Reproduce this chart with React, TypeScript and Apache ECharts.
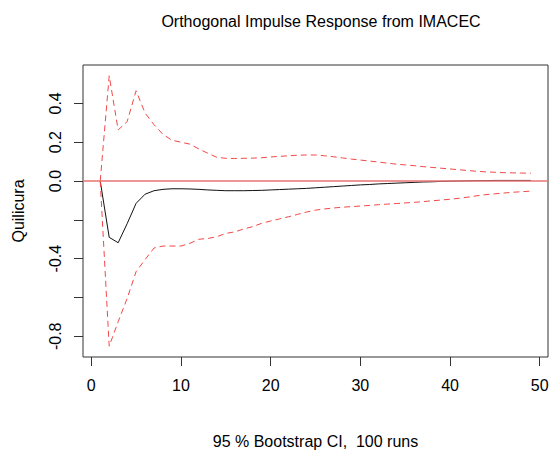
import React, { useEffect, useRef } from "react";
import * as echarts from "echarts";

const steps: number[] = Array.from({ length: 49 }, (_, i) => i + 1);

const irf: number[] = [
  0, -0.29, -0.318, -0.22, -0.115, -0.068, -0.05, -0.043, -0.04, -0.04,
  -0.041, -0.043, -0.046, -0.048, -0.05, -0.05, -0.05, -0.049, -0.048, -0.046,
  -0.044, -0.042, -0.04, -0.038, -0.035, -0.032, -0.029, -0.026, -0.023, -0.02,
  -0.018, -0.015, -0.013, -0.011, -0.009, -0.007, -0.005, -0.004, -0.002, -0.001,
  0, 0.001, 0.002, 0.002, 0.003, 0.003, 0.003, 0.003, 0.003,
];

const upper: number[] = [
  0.0, 0.542, 0.263, 0.306, 0.465, 0.35, 0.29, 0.24, 0.21, 0.2,
  0.19, 0.165, 0.143, 0.122, 0.117, 0.116, 0.117, 0.118, 0.12, 0.124,
  0.127, 0.13, 0.133, 0.134, 0.134, 0.13, 0.125, 0.119, 0.113, 0.108,
  0.103, 0.098, 0.092, 0.087, 0.083, 0.079, 0.074, 0.07, 0.066, 0.062,
  0.058, 0.054, 0.05, 0.047, 0.045, 0.043, 0.042, 0.041, 0.04,
];

const lower: number[] = [
  0, -0.851, -0.725, -0.605, -0.467, -0.405, -0.345, -0.335, -0.335, -0.335,
  -0.321, -0.3, -0.296, -0.287, -0.27, -0.262, -0.247, -0.235, -0.218, -0.206,
  -0.195, -0.184, -0.172, -0.16, -0.15, -0.144, -0.139, -0.135, -0.132, -0.129,
  -0.126, -0.122, -0.119, -0.116, -0.113, -0.11, -0.106, -0.102, -0.098, -0.094,
  -0.089, -0.083, -0.076, -0.07, -0.066, -0.062, -0.058, -0.055, -0.052,
];

const xTicks: number[] = [0, 10, 20, 30, 40, 50];
const yTicks: number[] = [-0.8, -0.6, -0.4, -0.2, 0, 0.2, 0.4];
const yLabels: number[] = [-0.8, -0.4, 0, 0.2, 0.4];

const FONT = "'Liberation Sans', Arial, sans-serif";

export default function App() {
  const ref = useRef<HTMLDivElement>(null);
  useEffect(() => {
    if (!ref.current) return;
    const chart = echarts.init(ref.current, undefined, { renderer: "svg" });
    const xr = [1, 49];
    const xpad = (xr[1] - xr[0]) * 0.04;
    const ymin = Math.min(...lower);
    const ymax = Math.max(...upper);
    const ypad = (ymax - ymin) * 0.04;
    const pair = (arr: number[]) => steps.map((s, i) => [s, arr[i]]);
    chart.setOption({
      animation: false,
      backgroundColor: "#fff",
      textStyle: { fontFamily: FONT },
      title: {
        text: "Orthogonal Impulse Response from IMACEC",
        left: 316,
        top: 8,
        textAlign: "center",
        textStyle: { fontSize: 16, fontWeight: "normal", color: "#000", fontFamily: FONT },
      },
      grid: {
        left: 83,
        top: 65,
        right: 2,
        bottom: 97,
        show: true,
        borderColor: "#333",
        borderWidth: 1,
        backgroundColor: "transparent",
        containLabel: false,
        outerBoundsMode: "none",
      },
      xAxis: {
        type: "value",
        position: "bottom",
        min: xr[0] - xpad,
        max: xr[1] + xpad,
        name: "95 % Bootstrap CI,  100 runs",
        nameLocation: "middle",
        nameGap: 76,
        nameTextStyle: { fontSize: 16, color: "#000", fontFamily: FONT },
        axisLine: { show: false, onZero: false },
        splitLine: { show: false },
        axisTick: { show: true, inside: false, length: 9, customValues: xTicks, lineStyle: { color: "#333" } },
        axisLabel: {
          show: true,
          customValues: xTicks,
          margin: 20,
          fontSize: 16,
          color: "#000",
          fontFamily: FONT,
          formatter: (v: number) => String(v),
        },
      },
      yAxis: {
        type: "value",
        position: "left",
        min: ymin - ypad,
        max: ymax + ypad,
        name: "Quilicura",
        nameLocation: "middle",
        nameGap: 57,
        nameRotate: 90,
        nameTextStyle: { fontSize: 16, color: "#000", fontFamily: FONT },
        axisLine: { show: false, onZero: false },
        splitLine: { show: false },
        axisTick: { show: true, inside: false, length: 9, customValues: yTicks, lineStyle: { color: "#333" } },
        axisLabel: {
          show: true,
          customValues: yLabels,
          rotate: 90,
          margin: 20,
          fontSize: 16,
          color: "#000",
          fontFamily: FONT,
          formatter: (v: number) => v.toFixed(1),
        },
      },
      series: [
        {
          type: "line",
          data: pair(irf),
          symbol: "none",
          lineStyle: { color: "#111", width: 1 },
          markLine: {
            silent: true,
            symbol: "none",
            label: { show: false },
            lineStyle: { color: "#e87272", width: 1.5, type: "solid" },
            data: [{ yAxis: 0 }],
          },
        },
        {
          type: "line",
          data: pair(upper),
          symbol: "none",
          lineStyle: { color: "#f04848", width: 1, type: [6, 4] },
        },
        {
          type: "line",
          data: pair(lower),
          symbol: "none",
          lineStyle: { color: "#f04848", width: 1, type: [6, 4] },
        },
      ],
    });
    return () => chart.dispose();
  }, []);
  return (
    <div
      ref={ref}
      style={{ position: "absolute", left: 0, top: 0, width: 550, height: 454 }}
    />
  );
}
